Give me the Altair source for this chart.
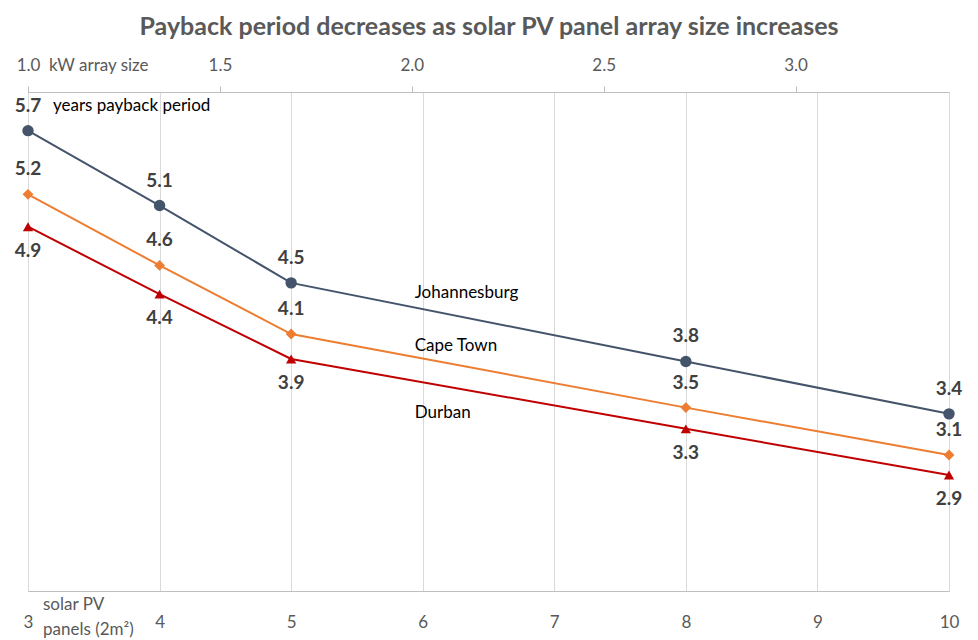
import altair as alt
import pandas as pd

# ---- data ----
panels = [3, 4, 5, 8, 10]
cities = ["Johannesburg", "Cape Town", "Durban"]
johannesburg = [5.69, 5.09, 4.47, 3.84, 3.42]
cape_town = [5.18, 4.61, 4.06, 3.47, 3.09]
durban = [4.92, 4.38, 3.86, 3.30, 2.93]
panel_ticks = [3, 4, 5, 6, 7, 8, 9, 10]
kw_ticks = [1.0, 1.5, 2.0, 2.5, 3.0]
name_x = [6, 6, 6]
name_y = [4.39, 3.96, 3.43]
title_text = "Payback period decreases as solar PV panel array size increases"

colors = ["#44546A", "#ED7D31", "#C00000"]
shapes = ["circle", "diamond", "triangle-up"]
FONT = "Lato"

rows = []
for city, vals in zip(cities, [johannesburg, cape_town, durban]):
    for p, v in zip(panels, vals):
        rows.append({"city": city, "panels": p, "years": v, "label": f"{v:.1f}"})
df = pd.DataFrame(rows)
names = pd.DataFrame({"city": cities, "panels": name_x, "years": name_y})
kw = pd.DataFrame({"kw": kw_ticks})

xs = alt.Scale(domain=[3, 10], nice=False, zero=False)
ys = alt.Scale(domain=[2, 6], nice=False, zero=False)
col = alt.Color("city:N", scale=alt.Scale(domain=cities, range=colors), legend=None)

x_bottom = alt.X(
    "panels:Q", scale=xs,
    axis=alt.Axis(values=panel_ticks, grid=True, gridColor="#d9d9d9", gridWidth=1,
                  ticks=False, domainColor="#bfbfbf", domainWidth=1,
                  labelColor="#595959", labelFontSize=17, labelFont=FONT,
                  labelFlush=False, labelBound=False,
                  labelPadding=23, title=None, format="d"),
)
y_enc = alt.Y("years:Q", scale=ys, axis=None)

lines = alt.Chart(df).mark_line(strokeWidth=2).encode(x=x_bottom, y=y_enc, color=col, detail="city:N")

points = alt.Chart(df).mark_point(filled=True, opacity=1).encode(
    x=alt.X("panels:Q", scale=xs), y=y_enc, color=col,
    shape=alt.Shape("city:N", scale=alt.Scale(domain=cities, range=shapes), legend=None),
    size=alt.Size("city:N", scale=alt.Scale(domain=cities, range=[130, 105, 150]), legend=None),
)

lab_above = alt.Chart(df).transform_filter(alt.datum.city != "Durban").mark_text(
    dy=-25, fontSize=19, fontWeight="bold", color="#404040", font=FONT
).encode(x=alt.X("panels:Q", scale=xs), y=y_enc, text="label:N")

lab_below = alt.Chart(df).transform_filter(alt.datum.city == "Durban").mark_text(
    dy=24, fontSize=19, fontWeight="bold", color="#404040", font=FONT
).encode(x=alt.X("panels:Q", scale=xs), y=y_enc, text="label:N")

series_names = alt.Chart(names).mark_text(
    align="left", dx=-8, fontSize=17, color="#000000", font=FONT
).encode(x=alt.X("panels:Q", scale=xs), y=y_enc, text="city:N")

one = pd.DataFrame({"t": [0]})
title = alt.Chart(one).mark_text(
    text=title_text, fontSize=25, fontWeight="bold", color="#595959", font=FONT, align="center"
).encode(x=alt.value(461), y=alt.value(-65))
years_lbl = alt.Chart(one).mark_text(
    text="years payback period", fontSize=17, color="#000000", font=FONT, align="left"
).encode(x=alt.value(25), y=alt.value(14))
kw_lbl = alt.Chart(one).mark_text(
    text="kW array size", fontSize=17, color="#595959", font=FONT, align="left"
).encode(x=alt.value(21), y=alt.value(-26))
panel_lbl = alt.Chart(one).mark_text(
    text=["solar PV", "panels (2m²)"], fontSize=17, color="#595959", font=FONT,
    align="left", lineHeight=25
).encode(x=alt.value(15), y=alt.value(513))

main = alt.layer(lines, points, lab_above, lab_below, series_names, title, years_lbl, kw_lbl, panel_lbl)

top_axis = alt.Chart(kw).mark_point(opacity=0).encode(
    x=alt.X("kw:Q", scale=alt.Scale(domain=[1.0, 3.4], nice=False, zero=False),
            axis=alt.Axis(orient="top", values=kw_ticks, format=".1f", grid=False,
                          ticks=True, tickSize=6, tickColor="#bfbfbf", domainColor="#bfbfbf",
                          labelColor="#595959", labelFontSize=17, labelFont=FONT,
                          labelFlush=False, labelBound=False,
                          labelPadding=12, title=None)),
    y=alt.value(0),
)

chart = alt.layer(main, top_axis).resolve_scale(x="independent").properties(
    width=921, height=499, autosize="none",
    padding={"left": 28, "top": 92, "right": 29, "bottom": 49},
).configure_view(stroke=None).configure(background="white")

chart.save("out.html", embed_options={"renderer": "svg", "actions": False})
